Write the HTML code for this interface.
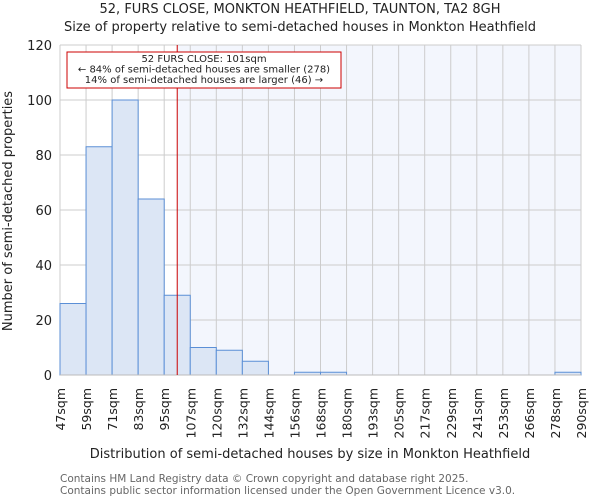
<!DOCTYPE html>
<html><head><meta charset="utf-8"><style>
body{margin:0;background:#fff;font-family:"DejaVu Sans","Liberation Sans",sans-serif;}
svg text{font-family:"DejaVu Sans","Liberation Sans",sans-serif;}
</style></head><body>
<svg id="chart" width="600" height="500" xmlns="http://www.w3.org/2000/svg">
<text x="300" y="13" text-anchor="middle" font-size="13" fill="#222">52, FURS CLOSE, MONKTON HEATHFIELD, TAUNTON, TA2 8GH</text>
<text x="300" y="31" text-anchor="middle" font-size="13" fill="#222">Size of property relative to semi-detached houses in Monkton Heathfield</text>
<g id="grid"></g><g id="bars"></g><g id="axes"></g>
<text transform="translate(12,211) rotate(-90)" text-anchor="middle" font-size="13" fill="#222">Number of semi-detached properties</text>
<text x="310" y="458" text-anchor="middle" font-size="13" fill="#222">Distribution of semi-detached houses by size in Monkton Heathfield</text>
<text x="60" y="482" font-size="10.5" fill="#666">Contains HM Land Registry data © Crown copyright and database right 2025.</text>
<text x="60" y="494" font-size="10.5" fill="#666">Contains public sector information licensed under the Open Government Licence v3.0.</text>
</svg>
<script>
const binLabels=["47sqm","59sqm","71sqm","83sqm","95sqm","107sqm","120sqm","132sqm","144sqm","156sqm","168sqm","180sqm","193sqm","205sqm","217sqm","229sqm","241sqm","253sqm","266sqm","278sqm","290sqm"];
const counts=[26,83,100,64,29,10,9,5,0,1,1,0,0,0,0,0,0,0,0,1];
const yTicks=[0,20,40,60,80,100,120];
const markerBin=4.5;
const annotLines=["52 FURS CLOSE: 101sqm","← 84% of semi-detached houses are smaller (278)","14% of semi-detached houses are larger (46) →"];
const NS="http://www.w3.org/2000/svg";
const X0=60,X1=581,Y0=375,Y1=45,yMax=120;
const n=counts.length;
const xs=i=>X0+(X1-X0)*i/n;
const ys=v=>Y0-(Y0-Y1)*v/yMax;
function mk(p,tag,a){const e=document.createElementNS(NS,tag);for(const k in a)e.setAttribute(k,a[k]);p.appendChild(e);return e;}
const grid=document.getElementById('grid'),bars=document.getElementById('bars'),axes=document.getElementById('axes');
const mx=xs(markerBin);
let bg=mk(grid,'rect',{x:mx,y:Y1,width:X1-mx,height:Y0-Y1,fill:'#f3f6fd'});


for(let i=0;i<=n;i++){let l=mk(grid,'line',{x1:xs(i),x2:xs(i),y1:Y1,y2:Y0,stroke:'#ccc','stroke-width':1});

}
yTicks.forEach(t=>{let l=mk(grid,'line',{x1:X0,x2:X1,y1:ys(t),y2:ys(t),stroke:'#ccc','stroke-width':1});


let tx=mk(axes,'text',{x:X0-8,y:ys(t)+5,'text-anchor':'end','font-size':13,fill:'#222'});tx.textContent=t;

});
counts.forEach((c,i)=>{if(c<=0)return;let r=mk(bars,'rect',{x:xs(i),y:ys(c),width:xs(i+1)-xs(i),height:Y0-ys(c),fill:'#dce6f5',stroke:'#5b8fd6','stroke-width':1});

});
binLabels.forEach((b,i)=>{let t=mk(axes,'text',{transform:`translate(${xs(i)+5},388) rotate(-90)`,'text-anchor':'end','font-size':12.5,fill:'#222'});t.textContent=b;

});
let ax=mk(axes,'line',{x1:X0,x2:X1,y1:Y0,y2:Y0,stroke:'#bbb','stroke-width':1});


let ml=mk(axes,'line',{x1:mx,x2:mx,y1:Y1,y2:Y0,stroke:'#cc0000','stroke-width':1});


let box=mk(axes,'rect',{x:67,y:52,width:274,height:36,fill:'#fff',stroke:'#cc0000','stroke-width':1});


annotLines.forEach((s,i)=>{let t=mk(axes,'text',{x:204,y:62+i*10.5,'text-anchor':'middle','font-size':10,fill:'#222'});t.textContent=s;

});
</script>
</body></html>
